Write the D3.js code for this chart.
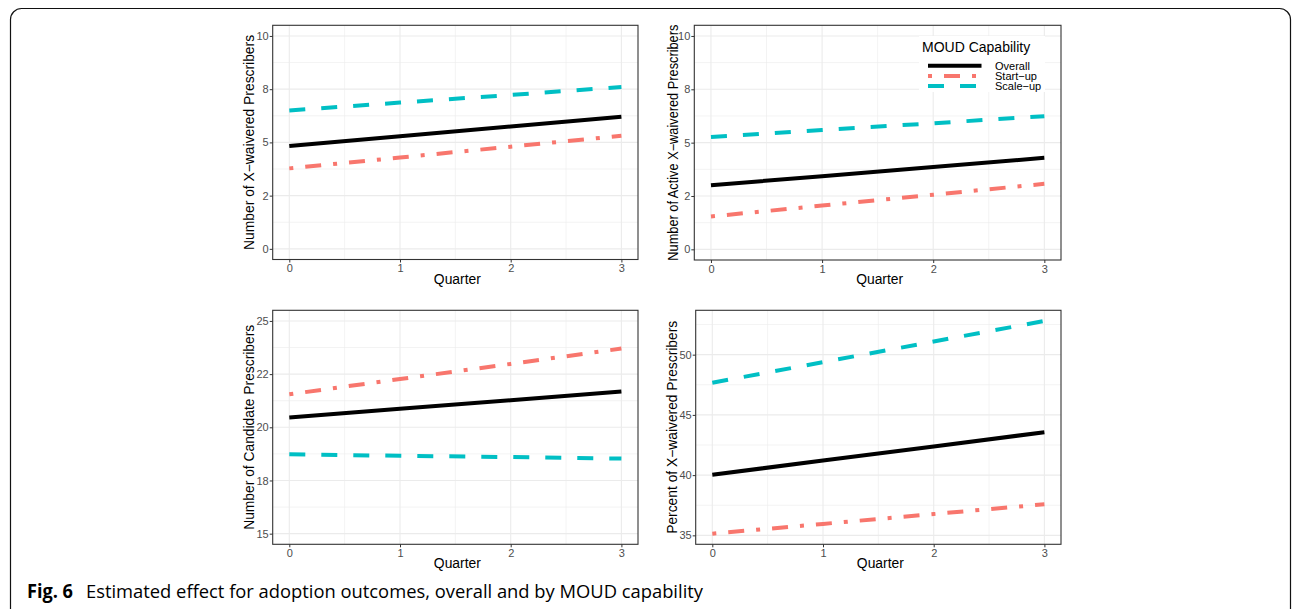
<!DOCTYPE html>
<html>
<head>
<meta charset="utf-8">
<script src="https://cdn.jsdelivr.net/npm/d3@7"></script>
<style>
  body { margin: 0; background: #fff; }
  svg { display: block; font-family: "Liberation Sans", Arial, sans-serif; }
</style>
</head>
<body>
<div id="chart"></div>
<script>
// quarters and groups
const quarters = [0, 1, 2, 3];
const groups = ["Overall", "Start\u2212up", "Scale\u2212up"];

// Number of X-waivered prescribers
const waiveredOverall = [4.83, 5.29, 5.75, 6.21];
const waiveredStartup = [3.78, 4.29, 4.80, 5.31];
const waiveredScaleup = [6.50, 6.87, 7.23, 7.60];

// Number of active X-waivered prescribers
const activeOverall = [3.00, 3.43, 3.86, 4.29];
const activeStartup = [1.54, 2.05, 2.56, 3.07];
const activeScaleup = [5.26, 5.59, 5.91, 6.24];

// Number of candidate prescribers
const candidateOverall = [20.46, 20.87, 21.27, 21.68];
const candidateStartup = [21.55, 22.27, 22.98, 23.70];
const candidateScaleup = [18.73, 18.66, 18.60, 18.53];

// Percent of X-waivered prescribers
const percentOverall = [40.03, 41.21, 42.38, 43.56];
const percentStartup = [35.14, 35.95, 36.77, 37.58];
const percentScaleup = [47.67, 49.38, 51.09, 52.80];

// tick labels
const countTicks = [0, 2.5, 5, 7.5, 10];
const countTickLabels = ["0", "2", "5", "8", "10"];
const candidateTicks = [15, 17.5, 20, 22.5, 25];
const candidateTickLabels = ["15", "18", "20", "22", "25"];
const percentTicks = [35, 40, 45, 50];
const percentTickLabels = ["35", "40", "45", "50"];

const colors = ["#000000", "#F8766D", "#00BFC4"];
const dashes = [null, "4,12,16,12", "16,16"];

const svg = d3.select("#chart")
    .append("svg")
    .attr("width", 1292)
    .attr("height", 609);

// page frame
svg.append("rect")
    .attr("x", 10.5).attr("y", 8.5)
    .attr("width", 1280).attr("height", 700)
    .attr("rx", 11)
    .attr("fill", "none")
    .attr("stroke", "#111")
    .attr("stroke-width", 1.2);

const panels = [
    { left: 272.7, top: 25.3, right: 638, bottom: 259.5, titleX: 249, titleLen: 215,
      title: "Number of X\u2212waivered Prescribers",
      limits: [0, 10], ticks: countTicks, labels: countTickLabels,
      series: [waiveredOverall, waiveredStartup, waiveredScaleup] },
    { left: 694.3, top: 25.3, right: 1061, bottom: 260, titleX: 672.5, titleLen: 236,
      title: "Number of Active X\u2212waivered Prescribers",
      limits: [0, 10], ticks: countTicks, labels: countTickLabels,
      series: [activeOverall, activeStartup, activeScaleup], legend: true },
    { left: 272.7, top: 310.3, right: 638, bottom: 544.3, titleX: 249, titleLen: 205,
      title: "Number of Candidate Prescribers",
      limits: [15, 25], ticks: candidateTicks, labels: candidateTickLabels,
      series: [candidateOverall, candidateStartup, candidateScaleup] },
    { left: 695.7, top: 310.3, right: 1061, bottom: 544.3, titleX: 672, titleLen: 213,
      title: "Percent of X\u2212waivered Prescribers",
      limits: null, ticks: percentTicks, labels: percentTickLabels,
      series: [percentOverall, percentStartup, percentScaleup] }
];

function expand(lo, hi) {
    const pad = (hi - lo) * 0.05;
    return [lo - pad, hi + pad];
}

function drawPanel(p) {
    const g = svg.append("g");
    let lim = p.limits;
    if (!lim) {
        const all = p.series.flat();
        lim = [d3.min(all), d3.max(all)];
    }
    const x = d3.scaleLinear().domain(expand(0, 3)).range([p.left, p.right]);
    const y = d3.scaleLinear().domain(expand(lim[0], lim[1])).range([p.bottom, p.top]);

    // minor grid
    const step = p.ticks[1] - p.ticks[0];
    const yMinor = d3.range(p.ticks[0] - step / 2, y.domain()[1], step)
        .filter(v => v > y.domain()[0] && v < y.domain()[1]);
    const xMinor = [0.5, 1.5, 2.5];
    g.selectAll(".ymin").data(yMinor).enter().append("line")
        .attr("x1", p.left).attr("x2", p.right)
        .attr("y1", d => y(d)).attr("y2", d => y(d))
        .attr("stroke", "#ebebeb").attr("stroke-width", 0.6);
    g.selectAll(".xmin").data(xMinor).enter().append("line")
        .attr("y1", p.top).attr("y2", p.bottom)
        .attr("x1", d => x(d)).attr("x2", d => x(d))
        .attr("stroke", "#ebebeb").attr("stroke-width", 0.6);
    // major grid
    g.selectAll(".ymaj").data(p.ticks).enter().append("line")
        .attr("x1", p.left).attr("x2", p.right)
        .attr("y1", d => y(d)).attr("y2", d => y(d))
        .attr("stroke", "#ebebeb").attr("stroke-width", 1.1);
    g.selectAll(".xmaj").data(quarters).enter().append("line")
        .attr("y1", p.top).attr("y2", p.bottom)
        .attr("x1", d => x(d)).attr("x2", d => x(d))
        .attr("stroke", "#ebebeb").attr("stroke-width", 1.1);

    // lines
    const line = d3.line().x((d, i) => x(quarters[i])).y(d => y(d));
    p.series.forEach((s, i) => {
        g.append("path")
            .attr("d", line(s))
            .attr("fill", "none")
            .attr("stroke", colors[i])
            .attr("stroke-width", 4)
            .attr("stroke-dasharray", dashes[i]);
    });

    // border
    g.append("rect")
        .attr("x", p.left).attr("y", p.top)
        .attr("width", p.right - p.left).attr("height", p.bottom - p.top)
        .attr("fill", "none").attr("stroke", "#333").attr("stroke-width", 1.1);

    // axes
    const xAxis = g.append("g")
        .attr("transform", `translate(0,${p.bottom})`)
        .call(d3.axisBottom(x).tickValues(quarters).tickSize(3).tickPadding(2).tickFormat(d3.format("d")));
    const yAxis = g.append("g")
        .attr("transform", `translate(${p.left},0)`)
        .call(d3.axisLeft(y).tickValues(p.ticks).tickSize(3).tickPadding(1)
            .tickFormat((d, i) => p.labels[i]));
    [xAxis, yAxis].forEach(a => {
        a.select(".domain").remove();
        a.selectAll(".tick line").attr("stroke", "#333").attr("stroke-width", 1);
        a.selectAll(".tick text").attr("fill", "#4d4d4d")
            .style("font-size", "11px").style("font-family", "'Liberation Sans', Arial, sans-serif");
    });

    // titles
    g.append("text")
        .attr("x", (p.left + p.right) / 2 + 2)
        .attr("y", p.bottom + 24)
        .attr("text-anchor", "middle")
        .attr("textLength", 47).attr("lengthAdjust", "spacingAndGlyphs")
        .style("font-size", "14px")
        .text("Quarter");
    g.append("text")
        .attr("transform", `translate(${p.titleX},${(p.top + p.bottom) / 2}) rotate(-90)`)
        .attr("dy", "0.36em")
        .attr("text-anchor", "middle")
        .attr("textLength", p.titleLen).attr("lengthAdjust", "spacingAndGlyphs")
        .style("font-size", "14px")
        .text(p.title);

    if (p.legend) {
        const lg = g.append("g");
        lg.append("rect")
            .attr("x", 919).attr("y", 36)
            .attr("width", 126).attr("height", 56)
            .attr("fill", "#fff");
        lg.append("text")
            .attr("x", 922).attr("y", 52)
            .style("font-size", "14px")
            .text("MOUD Capability");
        groups.forEach((name, i) => {
            const yy = 65.7 + i * 10.2;
            lg.append("line")
                .attr("x1", 928).attr("x2", 981.5)
                .attr("y1", yy).attr("y2", yy)
                .attr("stroke", colors[i])
                .attr("stroke-width", 4)
                .attr("stroke-dasharray", dashes[i]);
            lg.append("text")
                .attr("x", 995).attr("y", yy + 4)
                .style("font-size", "11px")
                .text(name);
        });
    }
}

panels.forEach(drawPanel);

// caption
const cap = svg.append("g").style("font-family", "'Open Sans', 'Noto Sans', sans-serif");
cap.append("text")
    .attr("x", 27).attr("y", 598)
    .style("font-size", "19px").style("font-weight", "bold")
    .attr("textLength", 46).attr("lengthAdjust", "spacingAndGlyphs")
    .text("Fig. 6");
cap.append("text")
    .attr("x", 86).attr("y", 598)
    .style("font-size", "19px")
    .attr("textLength", 617).attr("lengthAdjust", "spacingAndGlyphs")
    .text("Estimated effect for adoption outcomes, overall and by MOUD capability");
</script>
</body>
</html>
